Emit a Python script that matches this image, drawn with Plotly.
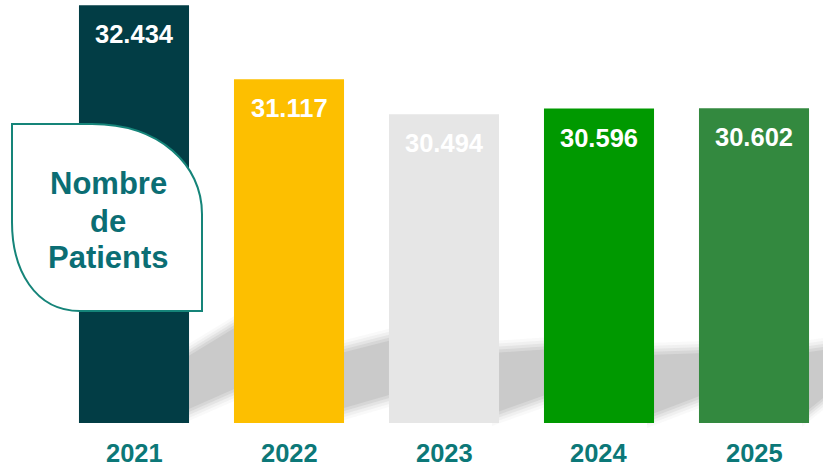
import plotly.graph_objects as go

years = ["2021", "2022", "2023", "2024", "2025"]
patients = [32.434, 31.117, 30.494, 30.596, 30.602]
value_labels = ["32.434", "31.117", "30.494", "30.596", "30.602"]
bar_colors = ["#023d45", "#fdbf00", "#e6e6e6", "#009900", "#33893f"]
box_lines = ["Nombre", "de", "Patients"]

W, H = 823, 467
MB = 44
PH = H - MB


def px(x):
    return x / W


def py(y):
    return (PH - y) / PH


def path_from(points):
    s = "M %.5f,%.5f" % (px(points[0][0]), py(points[0][1]))
    for p in points[1:]:
        s += " L %.5f,%.5f" % (px(p[0]), py(p[1]))
    return s + " Z"


fig = go.Figure()
fig.add_trace(go.Bar(
    x=years, y=patients, marker=dict(color=bar_colors, line=dict(width=0)),
    width=0.71, hoverinfo="skip", showlegend=False,
))

shapes = []
# soft shadow band behind the bars (decoration)
gaps = [
    [(182, 358), (241, 322), (241, 388), (182, 414)],
    [(337, 352), (396, 337), (396, 395), (337, 412)],
    [(492, 351), (551, 347), (551, 395), (492, 416)],
    [(647, 353), (705, 351), (705, 396), (647, 418)],
    [(802, 351), (823, 348), (823, 400), (802, 417)],
]
layers = [(10, 0.12), (7, 0.18), (4, 0.3), (1, 0.5), (-2, 1.0)]
for g in gaps:
    for grow, op in layers:
        pts = [(g[0][0], g[0][1] - grow), (g[1][0], g[1][1] - grow),
               (g[2][0], g[2][1] + grow), (g[3][0], g[3][1] + grow)]
        shapes.append(dict(type="path", xref="paper", yref="paper",
                           path=path_from(pts), fillcolor="#cacaca",
                           opacity=op, line=dict(width=0), layer="below"))

# leaf-shaped label box
L, R, T, B = 12, 202, 124, 311
leaf = "M %.5f,%.5f L %.5f,%.5f C %.5f,%.5f %.5f,%.5f %.5f,%.5f L %.5f,%.5f L %.5f,%.5f C %.5f,%.5f %.5f,%.5f %.5f,%.5f Z" % (
    px(L), py(T), px(92), py(T),
    px(160), py(T), px(R), py(165), px(R), py(214),
    px(R), py(B), px(80), py(B),
    px(35), py(B), px(L), py(270), px(L), py(222),
)
shapes.append(dict(type="path", xref="paper", yref="paper", path=leaf,
                   fillcolor="white", line=dict(color="#158479", width=2),
                   layer="above"))

FONT = "Liberation Sans, Arial"
annotations = []
for i, (yr, v, lab) in enumerate(zip(years, patients, value_labels)):
    annotations.append(dict(x=i, y=v, xref="x", yref="y", text="<b>%s</b>" % lab,
                            showarrow=False, yanchor="middle", yshift=-29,
                            font=dict(size=25.5, color="white", family=FONT)))
    annotations.append(dict(x=i, y=0, xref="x", yref="paper", text="<b>%s</b>" % yr,
                            showarrow=False, yanchor="middle", yshift=-30,
                            font=dict(size=25.5, color="#0c7878", family=FONT)))

for line, yy in zip(box_lines, [184, 221, 257]):
    annotations.append(dict(x=px(108), y=py(yy), xref="paper", yref="paper",
                            text="<b>%s</b>" % line, showarrow=False,
                            xanchor="center", yanchor="middle",
                            font=dict(size=31, color="#0b6e74", family=FONT)))

fig.update_layout(
    width=W, height=H,
    margin=dict(l=0, r=0, t=0, b=MB),
    paper_bgcolor="white", plot_bgcolor="rgba(0,0,0,0)",
    xaxis=dict(type="category", range=[-134 / 155, (W - 134) / 155],
               showticklabels=False, showgrid=False, zeroline=False,
               showline=False, ticks=""),
    yaxis=dict(range=[25.0, 25.0 + PH / 56.2], showticklabels=False,
               showgrid=False, zeroline=False, showline=False, ticks=""),
    shapes=shapes, annotations=annotations, showlegend=False,
)

fig.write_html("out.html", config={"displayModeBar": False},
               post_script="document.body.style.margin='0';document.body.style.overflow='hidden';")
